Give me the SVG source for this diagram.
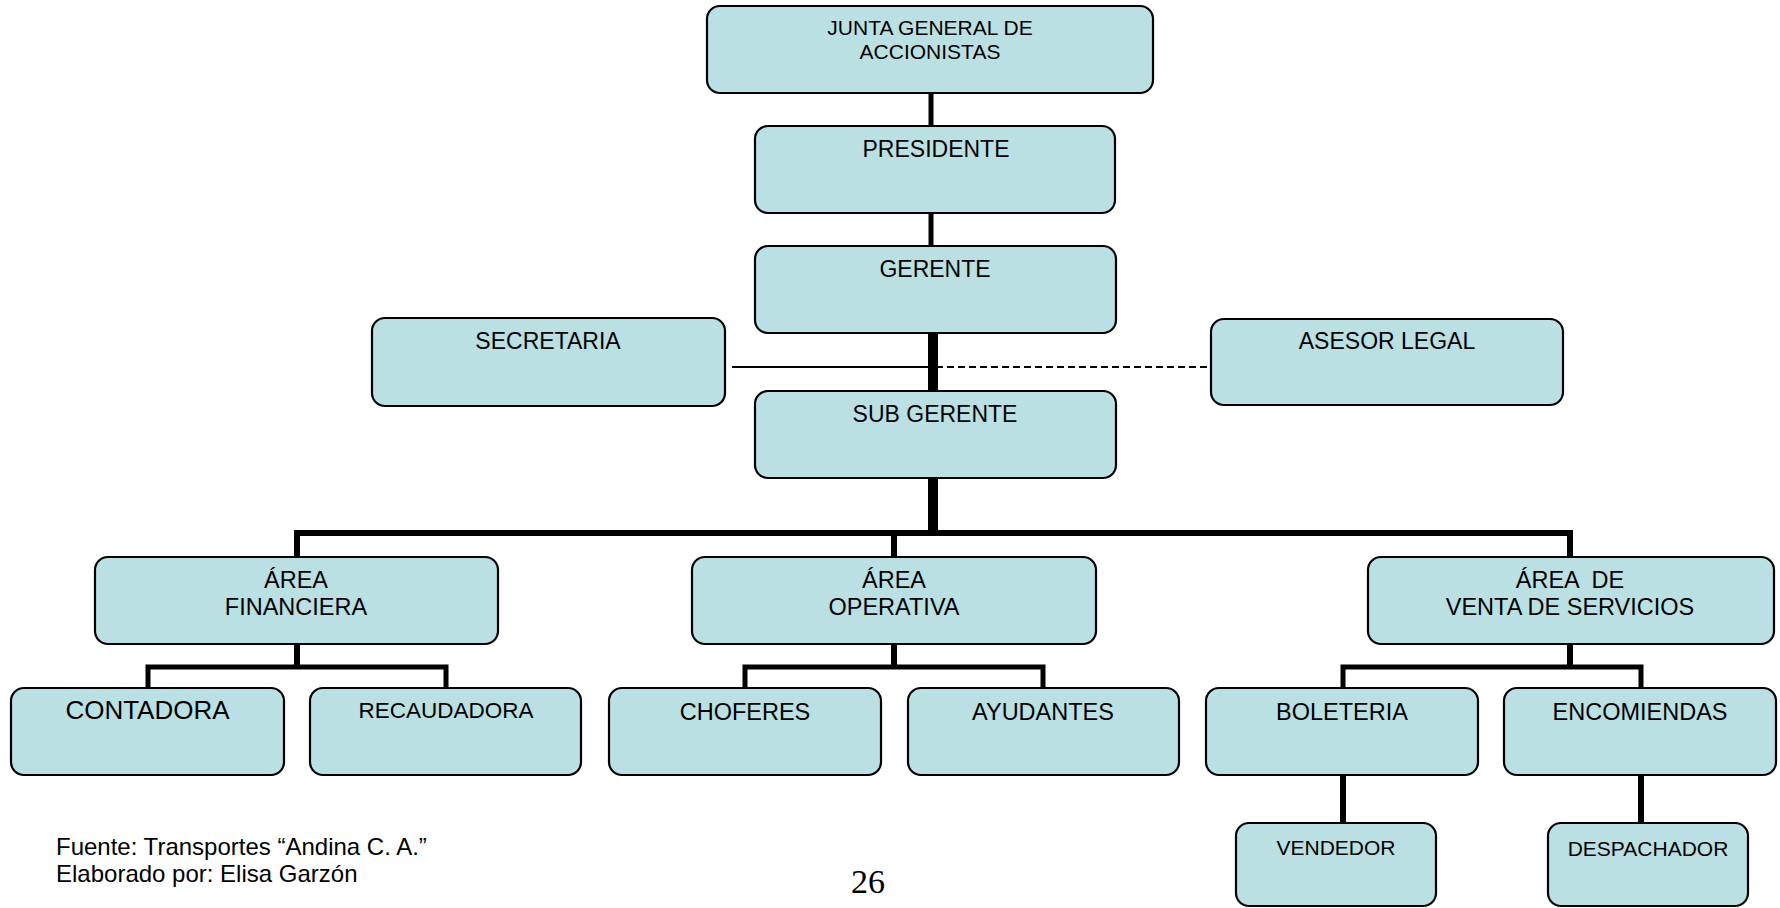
<svg xmlns="http://www.w3.org/2000/svg" width="1780" height="908" viewBox="0 0 1780 908">
  <style>
    .box { fill: #BAE0E3; stroke: #000; stroke-width: 2.2; }
    .lbl { font-family: "Liberation Sans", Arial, sans-serif; fill: #000; text-anchor: middle; }
    .wire { fill: none; stroke: #000; stroke-linejoin: miter; stroke-linecap: butt; }
    .foot { font-family: "Liberation Sans", Arial, sans-serif; fill: #000; font-size: 24px; }
  </style>
  <rect width="1780" height="908" fill="#fff"/>

  <!-- connectors -->
  <g id="connectors">
    <line class="wire" x1="931" y1="92" x2="931" y2="127" stroke-width="5"/>
    <line class="wire" x1="931" y1="212" x2="931" y2="247" stroke-width="5"/>
    <line class="wire" x1="933" y1="332" x2="933" y2="392" stroke-width="10"/>
    <line class="wire" x1="933" y1="477" x2="933" y2="536" stroke-width="10"/>
    <line class="wire" x1="732" y1="367" x2="931" y2="367" stroke-width="2"/>
    <line class="wire" x1="936" y1="367" x2="1209" y2="367" stroke-width="2" stroke-dasharray="7,4"/>
    <!-- main branch bar -->
    <path class="wire" d="M297 558 V533 H1570 V558" stroke-width="6"/>
    <line class="wire" x1="894" y1="533" x2="894" y2="558" stroke-width="6"/>
    <!-- area financiera -->
    <line class="wire" x1="297" y1="643" x2="297" y2="667" stroke-width="6"/>
    <path class="wire" d="M148 689 V667 H446 V689" stroke-width="5"/>
    <!-- area operativa -->
    <line class="wire" x1="894" y1="643" x2="894" y2="667" stroke-width="6"/>
    <path class="wire" d="M745 689 V667 H1043 V689" stroke-width="5"/>
    <!-- area venta de servicios -->
    <line class="wire" x1="1570" y1="643" x2="1570" y2="667" stroke-width="6"/>
    <path class="wire" d="M1343 689 V667 H1641 V689" stroke-width="5"/>
    <line class="wire" x1="1343" y1="774" x2="1343" y2="824" stroke-width="6"/>
    <line class="wire" x1="1641" y1="774" x2="1641" y2="824" stroke-width="6"/>
  </g>

  <g id="junta">
    <rect class="box" x="707" y="6" width="446" height="87" rx="13"/>
    <text class="lbl" x="930" y="35" font-size="21">JUNTA GENERAL DE</text>
    <text class="lbl" x="930" y="59" font-size="21">ACCIONISTAS</text>
  </g>
  <g id="presidente">
    <rect class="box" x="755" y="126" width="360" height="87" rx="13"/>
    <text class="lbl" x="936" y="157" font-size="23">PRESIDENTE</text>
  </g>
  <g id="gerente">
    <rect class="box" x="755" y="246" width="361" height="87" rx="13"/>
    <text class="lbl" x="935" y="277" font-size="23">GERENTE</text>
  </g>
  <g id="secretaria">
    <rect class="box" x="372" y="318" width="353" height="88" rx="13"/>
    <text class="lbl" x="548" y="349" font-size="23">SECRETARIA</text>
  </g>
  <g id="asesor-legal">
    <rect class="box" x="1211" y="319" width="352" height="86" rx="13"/>
    <text class="lbl" x="1387" y="349" font-size="23">ASESOR LEGAL</text>
  </g>
  <g id="sub-gerente">
    <rect class="box" x="755" y="391" width="361" height="87" rx="13"/>
    <text class="lbl" x="935" y="422" font-size="23">SUB GERENTE</text>
  </g>

  <g id="area-financiera">
    <rect class="box" x="95" y="557" width="403" height="87" rx="13"/>
    <text class="lbl" x="296" y="588" font-size="23.5">ÁREA</text>
    <text class="lbl" x="296" y="615" font-size="23.5">FINANCIERA</text>
  </g>
  <g id="area-operativa">
    <rect class="box" x="692" y="557" width="404" height="87" rx="13"/>
    <text class="lbl" x="894" y="588" font-size="23.5">ÁREA</text>
    <text class="lbl" x="894" y="615" font-size="23.5">OPERATIVA</text>
  </g>
  <g id="area-venta">
    <rect class="box" x="1368" y="557" width="406" height="87" rx="13"/>
    <text class="lbl" x="1570" y="588" font-size="23.5" xml:space="preserve">ÁREA  DE</text>
    <text class="lbl" x="1570" y="615" font-size="23.5">VENTA DE SERVICIOS</text>
  </g>

  <g id="contadora">
    <rect class="box" x="11" y="688" width="273" height="87" rx="13"/>
    <text class="lbl" x="147.5" y="719" font-size="26">CONTADORA</text>
  </g>
  <g id="recaudadora">
    <rect class="box" x="310" y="688" width="271" height="87" rx="13"/>
    <text class="lbl" x="446" y="718" font-size="22.5">RECAUDADORA</text>
  </g>
  <g id="choferes">
    <rect class="box" x="609" y="688" width="272" height="87" rx="13"/>
    <text class="lbl" x="745" y="720" font-size="23.5">CHOFERES</text>
  </g>
  <g id="ayudantes">
    <rect class="box" x="908" y="688" width="271" height="87" rx="13"/>
    <text class="lbl" x="1043" y="720" font-size="23.5">AYUDANTES</text>
  </g>
  <g id="boleteria">
    <rect class="box" x="1206" y="688" width="272" height="87" rx="13"/>
    <text class="lbl" x="1342" y="720" font-size="23.5">BOLETERIA</text>
  </g>
  <g id="encomiendas">
    <rect class="box" x="1504" y="688" width="272" height="87" rx="13"/>
    <text class="lbl" x="1640" y="720" font-size="23.5">ENCOMIENDAS</text>
  </g>

  <g id="vendedor">
    <rect class="box" x="1236" y="823" width="200" height="83" rx="13"/>
    <text class="lbl" x="1336" y="855" font-size="21">VENDEDOR</text>
  </g>
  <g id="despachador">
    <rect class="box" x="1548" y="823" width="200" height="83" rx="13"/>
    <text class="lbl" x="1648" y="856" font-size="21">DESPACHADOR</text>
  </g>

  <!-- source note and page number -->
  <text class="foot" x="56" y="855">Fuente: Transportes “Andina C. A.”</text>
  <text class="foot" x="56" y="882">Elaborado por: Elisa Garzón</text>
  <text x="868" y="893" font-family="Liberation Serif, 'Times New Roman', serif" font-size="34" text-anchor="middle">26</text>
</svg>
